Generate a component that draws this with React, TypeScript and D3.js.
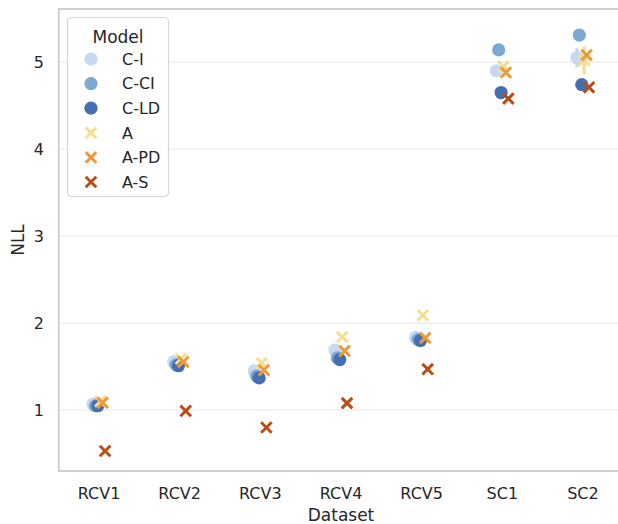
import React from 'react';
import * as d3 from 'd3';

const datasets = ['RCV1', 'RCV2', 'RCV3', 'RCV4', 'RCV5', 'SC1', 'SC2'];
const models = ['C-I', 'C-CI', 'C-LD', 'A', 'A-PD', 'A-S'];
const modelColors = ['#c8d8ee', '#7ca8d4', '#4470b3', '#f7dd8e', '#ec9a3a', '#b84e16'];
const modelMarkers = ['o', 'o', 'o', 'x', 'x', 'x'];

// NLL per model, one value per dataset
const nllCI = [1.07, 1.555, 1.45, 1.69, 1.835, 4.9, 5.05];
const nllCCI = [1.05, 1.52, 1.39, 1.6, 1.81, 5.14, 5.31];
const nllCLD = [1.05, 1.51, 1.37, 1.58, 1.8, 4.65, 4.74];
const nllA = [1.1, 1.59, 1.54, 1.84, 2.09, 4.95, 5.02];
const nllAPD = [1.085, 1.555, 1.46, 1.68, 1.83, 4.88, 5.08];
const nllAS = [0.53, 0.99, 0.8, 1.08, 1.47, 4.58, 4.71];

// half-width of the error bars (only visible ones)
const errCI = [0, 0, 0, 0, 0, 0, 0.11];
const errCCI = [0, 0, 0, 0, 0, 0, 0];
const errCLD = [0, 0, 0, 0, 0, 0, 0];
const errA = [0, 0, 0, 0, 0, 0.03, 0.16];
const errAPD = [0, 0, 0, 0, 0, 0, 0];
const errAS = [0, 0, 0, 0, 0, 0, 0];

const yTicks = [1, 2, 3, 4, 5];

const series = [nllCI, nllCCI, nllCLD, nllA, nllAPD, nllAS];
const errors = [errCI, errCCI, errCLD, errA, errAPD, errAS];

const W = 618;
const H = 524;
const margin = { left: 58.7, right: 623.3, top: 9, bottom: 471 };
const text = '#262626';
const font = 'DejaVu Sans, sans-serif';

function Marker({ kind, cx, cy, color }: { kind: string; cx: number; cy: number; color: string }) {
  if (kind === 'o') return <circle cx={cx} cy={cy} r={6.6} fill={color} />;
  const s = 5.3;
  return (
    <path
      d={`M${cx - s},${cy - s}L${cx + s},${cy + s}M${cx - s},${cy + s}L${cx + s},${cy - s}`}
      stroke={color}
      strokeWidth={3}
      fill="none"
    />
  );
}

export default function App() {
  const x = d3.scalePoint<string>().domain(datasets).range([margin.left, margin.right]).padding(0.5);
  const y = d3.scaleLinear().domain([0.3, 5.61]).range([margin.bottom, margin.top]);
  const dodge = d3
    .scalePoint<string>()
    .domain(models)
    .range([-0.075 * x.step(), 0.075 * x.step()]);

  return (
    <svg
      width={W}
      height={H}
      style={{ position: 'absolute', left: 0, top: 0, background: '#fff' }}
      fontFamily={font}
    >
      {/* grid */}
      {yTicks.map((t) => (
        <line key={t} x1={margin.left} x2={margin.right} y1={y(t)} y2={y(t)} stroke="#ebebeb" strokeWidth={1.2} />
      ))}

      {/* marks */}
      {models.map((m, mi) => (
        <g key={m}>
          {series[mi].map((v, di) => {
            const cx = (x(datasets[di]) ?? 0) + (dodge(m) ?? 0);
            const e = errors[mi][di];
            return (
              <g key={di}>
                {e > 0 && (
                  <line x1={cx} x2={cx} y1={y(v - e)} y2={y(v + e)} stroke={modelColors[mi]} strokeWidth={3.2} />
                )}
                <Marker kind={modelMarkers[mi]} cx={cx} cy={y(v)} color={modelColors[mi]} />
              </g>
            );
          })}
        </g>
      ))}

      {/* frame */}
      <rect
        x={margin.left}
        y={margin.top}
        width={margin.right - margin.left}
        height={margin.bottom - margin.top}
        fill="none"
        stroke="#cccccc"
        strokeWidth={1.8}
      />

      {/* y ticks */}
      {yTicks.map((t) => (
        <text key={t} x={44} y={y(t)} dy="0.36em" textAnchor="end" fontSize={16} fill={text}>
          {t}
        </text>
      ))}
      {/* x ticks */}
      {datasets.map((d) => (
        <text key={d} x={x(d)} y={493} dy="0.36em" textAnchor="middle" fontSize={16} fill={text}>
          {d}
        </text>
      ))}

      <text x={341} y={515} dy="0.36em" textAnchor="middle" fontSize={17} fill={text}>
        Dataset
      </text>
      <text
        transform={`translate(18,240) rotate(-90)`}
        dy="0.36em"
        textAnchor="middle"
        fontSize={17}
        fill={text}
      >
        NLL
      </text>

      {/* legend */}
      <g>
        <rect x={67.5} y={17.5} width={101} height={179} rx={4} fill="#fff" fillOpacity={0.85} stroke="#d6d6d6" strokeWidth={1.2} />
        <text x={118} y={37} dy="0.36em" textAnchor="middle" fontSize={17} fill={text}>
          Model
        </text>
        {models.map((m, i) => {
          const ly = 59 + i * 24.6;
          return (
            <g key={m}>
              <Marker kind={modelMarkers[i]} cx={91} cy={ly} color={modelColors[i]} />
              <text x={122} y={ly} dy="0.36em" fontSize={16} fill={text}>
                {m}
              </text>
            </g>
          );
        })}
      </g>
    </svg>
  );
}
